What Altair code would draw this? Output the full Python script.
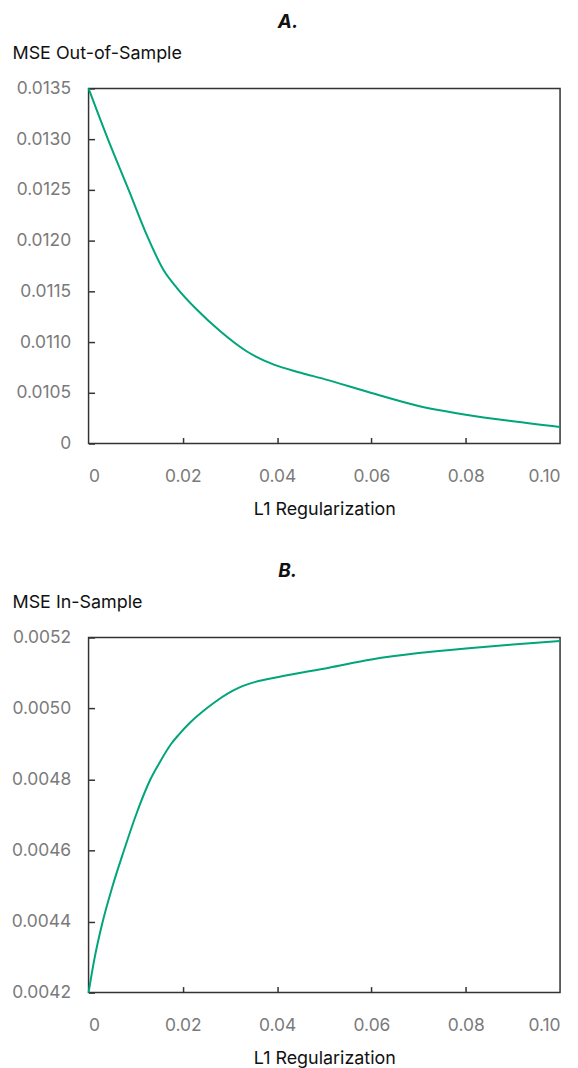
import altair as alt
import pandas as pd

# Panel A: out-of-sample MSE vs L1 regularization
l1_a = [0, 0.0041, 0.0085, 0.0124, 0.0159, 0.0188, 0.0230, 0.0280, 0.0336,
        0.0393, 0.0450, 0.0500, 0.0600, 0.0700, 0.0800, 0.0900, 0.1000]
mse_out = [0.013500, 0.013000, 0.012500, 0.012050, 0.011710, 0.011530, 0.011318,
           0.011104, 0.010907, 0.010777, 0.010698, 0.010635, 0.010498, 0.010370,
           0.010284, 0.010219, 0.010163]

# Panel B: in-sample MSE vs L1 regularization
l1_b = [0, 0.0012, 0.0030, 0.0050, 0.0075, 0.0100, 0.0131, 0.0152, 0.0175, 0.0191,
        0.0215, 0.0250, 0.0272, 0.0318, 0.0354, 0.0403, 0.0510, 0.0600, 0.0700,
        0.0800, 0.0900, 0.1000]
mse_in = [0.004200, 0.004292, 0.004400, 0.004496, 0.004600, 0.004698, 0.004800,
          0.004851, 0.004900, 0.004926, 0.004960, 0.005000, 0.005022, 0.005058,
          0.005075, 0.005089, 0.005115, 0.005138, 0.005156, 0.005169, 0.005180,
          0.005190]

x_ticks = [0, 0.02, 0.04, 0.06, 0.08, 0.10]
x_inner_ticks = [0.02, 0.04, 0.06, 0.08]
y_ticks_a = [0.0100, 0.0105, 0.0110, 0.0115, 0.0120, 0.0125, 0.0130, 0.0135]
y_ticks_b = [0.0042, 0.0044, 0.0046, 0.0048, 0.0050, 0.0052]

W, H = 474, 357
FONT = "Inter"
GREEN = "#00A57A"
FRAME = "#333333"
LABEL_GRAY = "#7a7a7a"


def panel(xs, ys, ydom, yticks, ylabel_expr, ytitle, ptitle):
    df = pd.DataFrame({"l1": xs, "mse": ys})
    base = alt.Chart(df)
    xscale = alt.Scale(domain=[0, 0.1], nice=False)
    yscale = alt.Scale(domain=ydom, nice=False, zero=False)
    line = base.mark_line(color=GREEN, strokeWidth=2, interpolate="monotone").encode(
        x=alt.X("l1:Q", scale=xscale,
                axis=alt.Axis(orient="bottom", values=x_ticks, ticks=False, domain=False,
                              grid=False, labelExpr="datum.value == 0 ? '0' : format(datum.value, '.2f')",
                              labelFont=FONT, labelFontSize=17.5, labelColor=LABEL_GRAY,
                              labelPadding=24, title="L1 Regularization", titleFont=FONT,
                              titleFontSize=18, titleFontWeight="normal", titleColor="#111111",
                              titlePadding=16)),
        y=alt.Y("mse:Q", scale=yscale,
                axis=alt.Axis(orient="left", values=yticks, ticks=False, domain=False, grid=False,
                              labelExpr=ylabel_expr, labelFont=FONT, labelFontSize=17.5,
                              labelColor=LABEL_GRAY, labelPadding=18, title=ytitle,
                              titleFont=FONT, titleFontSize=18, titleFontWeight="normal",
                              titleColor="#111111", titleAngle=0, titleAlign="left",
                              titleBaseline="middle", titleX=-77, titleY=-35)),
    )
    inner = base.mark_line(opacity=0).encode(
        x=alt.X("l1:Q", scale=xscale,
                axis=alt.Axis(orient="top", offset=-H, values=x_inner_ticks, labels=False,
                              domain=False, grid=False, ticks=True, tickSize=6,
                              tickColor=FRAME, tickWidth=1.5, title="")),
        y=alt.Y("mse:Q", scale=yscale,
                axis=alt.Axis(orient="right", offset=-W, values=yticks, labels=False,
                              domain=False, grid=False, ticks=True, tickSize=6,
                              tickColor=FRAME, tickWidth=1.5, title="")),
    )
    return alt.layer(line, inner).resolve_axis(x="independent", y="independent").properties(
        width=W, height=H,
        title=alt.TitleParams(ptitle, font=FONT, fontSize=19, fontWeight="bold",
                              fontStyle="italic", anchor="middle", frame="bounds",
                              color="#111111", offset=13),
    )


chart_a = panel(l1_a, mse_out, [0.0100, 0.0135], y_ticks_a,
                "datum.value < 0.01001 ? '0' : format(datum.value, '.4f')",
                "MSE Out-of-Sample", "A.")
chart_b = panel(l1_b, mse_in, [0.0042, 0.0052], y_ticks_b,
                "format(datum.value, '.4f')",
                "MSE In-Sample", "B.")

chart = alt.vconcat(chart_a, chart_b, spacing=41).properties(
    padding={"left": 2, "top": 1, "right": 5, "bottom": 2},
    background="white",
).configure_view(stroke=FRAME, strokeWidth=1.5)

chart.save("out.html", embed_options={"renderer": "svg", "actions": False})
